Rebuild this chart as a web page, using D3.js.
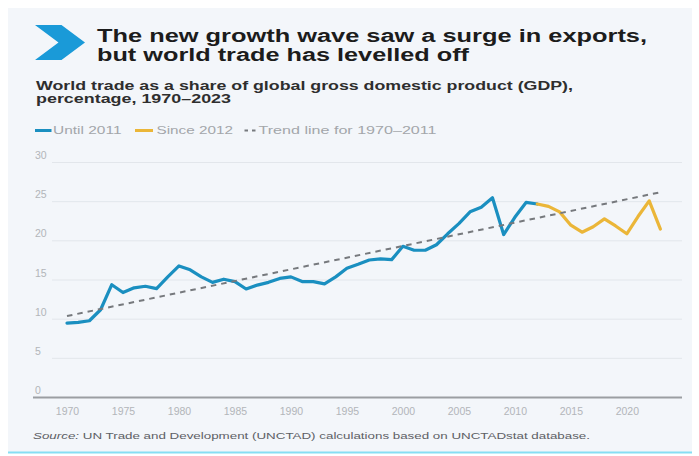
<!DOCTYPE html>
<html>
<head>
<meta charset="utf-8">
<script src="https://cdn.jsdelivr.net/npm/d3@7"></script>
<style>
  html, body { margin: 0; padding: 0; background: #ffffff; }
  svg { display: block; }
  text { font-family: "Liberation Sans", Arial, Helvetica, sans-serif; }
</style>
</head>
<body>
<svg id="chart" width="699" height="456"></svg>
<script>
// World trade as a share of global GDP, per cent
const yearsUntil = [1970, 1971, 1972, 1973, 1974, 1975, 1976, 1977, 1978, 1979,
                    1980, 1981, 1982, 1983, 1984, 1985, 1986, 1987, 1988, 1989,
                    1990, 1991, 1992, 1993, 1994, 1995, 1996, 1997, 1998, 1999,
                    2000, 2001, 2002, 2003, 2004, 2005, 2006, 2007, 2008, 2009,
                    2010, 2011];
const valuesUntil = [9.5, 9.6, 9.8, 11.2, 14.4, 13.4, 14.0, 14.2, 13.9, 15.4,
                     16.8, 16.3, 15.4, 14.7, 15.1, 14.8, 13.85, 14.35, 14.7, 15.2,
                     15.4, 14.8, 14.8, 14.5, 15.4, 16.5, 17.0, 17.55, 17.7, 17.6,
                     19.3, 18.8, 18.8, 19.5, 20.9, 22.2, 23.7, 24.3, 25.5, 20.8,
                     23.0, 24.9];
const yearsSince = [2012, 2013, 2014, 2015, 2016, 2017, 2018, 2019, 2020, 2021, 2022, 2023];
const valuesSince = [24.7, 24.4, 23.7, 22.0, 21.1, 21.8, 22.8, 21.9, 20.9, 23.1, 25.1, 21.5];
// Linear trend fitted on 1970–2011, extended to 2023
const trendYears = [1970, 2023];
const trendValues = [10.4, 26.2];

const yTicks = [0, 5, 10, 15, 20, 25, 30];
const xTicks = [1970, 1975, 1980, 1985, 1990, 1995, 2000, 2005, 2010, 2015, 2020];

const legendLabels = ["Until 2011", "Since 2012", "Trend line for 1970\u20132011"];

const BLUE = "#1a8fc0";
const GOLD = "#ebb638";

const svg = d3.select("#chart");

// Panel background and bottom accent rule
svg.append("rect").attr("x", 8).attr("y", 8).attr("width", 684).attr("height", 444)
  .attr("fill", "#f3f6fa");
svg.append("line").attr("x1", 8).attr("x2", 692).attr("y1", 452.5).attr("y2", 452.5)
  .attr("stroke", "#86def3").attr("stroke-width", 2);

// Chevron mark
svg.append("path")
  .attr("d", "M35,25 L61.5,25 L85,42.5 L61.5,60 L35,60 L58.5,42.5 Z")
  .attr("fill", "#1a9ad8");

// Title
const title = svg.append("g").attr("fill", "#1c1c1c").attr("font-weight", "bold").attr("font-size", 18);
title.append("text").attr("x", 97).attr("y", 41.5)
  .attr("textLength", 550).attr("lengthAdjust", "spacingAndGlyphs")
  .text("The new growth wave saw a surge in exports,");
title.append("text").attr("x", 97).attr("y", 60.5)
  .attr("textLength", 372).attr("lengthAdjust", "spacingAndGlyphs")
  .text("but world trade has levelled off");

// Subtitle
const sub = svg.append("g").attr("fill", "#2e2e2e").attr("font-weight", "bold").attr("font-size", 12.5);
sub.append("text").attr("x", 36).attr("y", 89.5)
  .attr("textLength", 537).attr("lengthAdjust", "spacingAndGlyphs")
  .text("World trade as a share of global gross domestic product (GDP),");
sub.append("text").attr("x", 36).attr("y", 102.5)
  .attr("textLength", 195).attr("lengthAdjust", "spacingAndGlyphs")
  .text("percentage, 1970\u20132023");

// Legend
const legend = svg.append("g").attr("font-size", 10).attr("fill", "#a3a6aa");
legend.append("line").attr("x1", 35).attr("x2", 51.5).attr("y1", 130.5).attr("y2", 130.5)
  .attr("stroke", BLUE).attr("stroke-width", 3);
legend.append("text").attr("x", 53).attr("y", 134.3)
  .attr("textLength", 68.5).attr("lengthAdjust", "spacingAndGlyphs").text(legendLabels[0]);
legend.append("line").attr("x1", 135).attr("x2", 153).attr("y1", 130.5).attr("y2", 130.5)
  .attr("stroke", GOLD).attr("stroke-width", 3);
legend.append("text").attr("x", 156.5).attr("y", 134.3)
  .attr("textLength", 76.5).attr("lengthAdjust", "spacingAndGlyphs").text(legendLabels[1]);
legend.append("line").attr("x1", 244.5).attr("x2", 256).attr("y1", 130.5).attr("y2", 130.5)
  .attr("stroke", "#777a7e").attr("stroke-width", 2).attr("stroke-dasharray", "3.5,4");
legend.append("text").attr("x", 258.5).attr("y", 134.3)
  .attr("textLength", 178).attr("lengthAdjust", "spacingAndGlyphs").text(legendLabels[2]);

// Scales
const x = d3.scaleLinear().domain([1970, 2023]).range([67, 660.4]);
const y = d3.scaleLinear().domain([0, 30]).range([397.5, 162.5]);

// Horizontal gridlines with labels sitting just above them
const yAxis = svg.append("g");
yAxis.selectAll("line.grid").data(yTicks.filter(d => d > 0)).join("line")
  .attr("class", "grid")
  .attr("x1", 52).attr("x2", 682)
  .attr("y1", d => y(d)).attr("y2", d => y(d))
  .attr("stroke", "#e2e6eb").attr("stroke-width", 1);
yAxis.selectAll("text").data(yTicks).join("text")
  .attr("x", 35).attr("y", d => y(d) - 3.5)
  .attr("font-size", 10.5).attr("fill", "#b2b5b9")
  .text(d => d);

// Baseline axis with year labels
const xAxis = svg.append("g").attr("transform", `translate(0,${y(0)})`)
  .call(d3.axisBottom(x).tickValues(xTicks).tickFormat(d3.format("d")).tickSize(0).tickPadding(10));
xAxis.select(".domain").remove();
xAxis.selectAll("text").attr("font-size", 10.5).attr("fill", "#b2b5b9")
  .attr("font-family", "'Liberation Sans', Arial, sans-serif");
svg.append("line").attr("x1", 33).attr("x2", 682).attr("y1", y(0)).attr("y2", y(0))
  .attr("stroke", "#9b9ea2").attr("stroke-width", 2);

// Series
const line = d3.line().x(d => x(d[0])).y(d => y(d[1]));
const until = yearsUntil.map((yr, i) => [yr, valuesUntil[i]]);
const since = yearsSince.map((yr, i) => [yr, valuesSince[i]]);
const trend = trendYears.map((yr, i) => [yr, trendValues[i]]);

svg.append("path").datum(until.concat([since[0]]))
  .attr("d", line).attr("fill", "none")
  .attr("stroke", BLUE).attr("stroke-width", 3.2).attr("stroke-linejoin", "round").attr("stroke-linecap", "round");
svg.append("path").datum(since)
  .attr("d", line).attr("fill", "none")
  .attr("stroke", GOLD).attr("stroke-width", 3.2).attr("stroke-linejoin", "round").attr("stroke-linecap", "round");
svg.append("path").datum(trend)
  .attr("d", line).attr("fill", "none")
  .attr("stroke", "#76797d").attr("stroke-width", 2).attr("stroke-dasharray", "5.5,5");

// Source note
const src = svg.append("text").attr("x", 33).attr("y", 438.5).attr("font-size", 9).attr("fill", "#5d6065")
  .attr("textLength", 557).attr("lengthAdjust", "spacingAndGlyphs");
src.append("tspan").attr("font-style", "italic").text("Source:");
src.append("tspan").text(" UN Trade and Development (UNCTAD) calculations based on UNCTADstat database.");
</script>
</body>
</html>
